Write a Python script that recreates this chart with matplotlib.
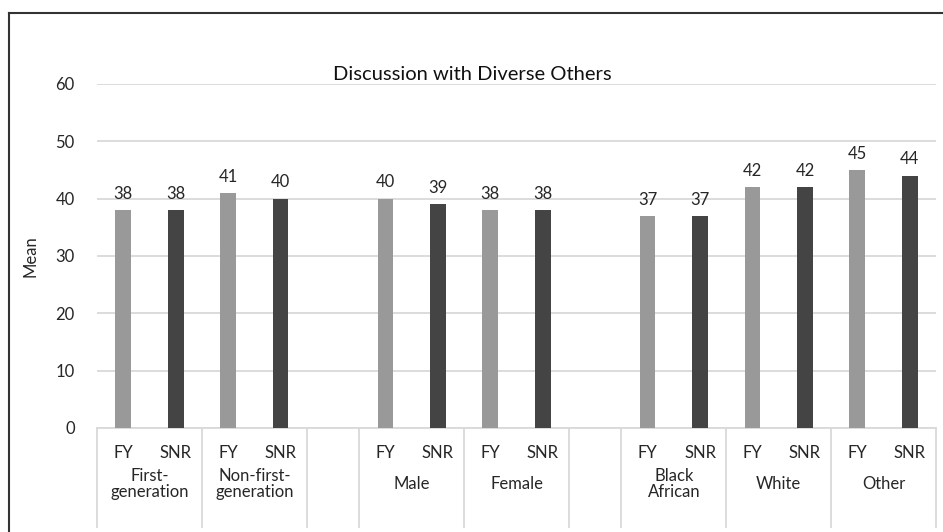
import matplotlib
matplotlib.use("Agg")
import matplotlib.pyplot as plt
from matplotlib.lines import Line2D
from matplotlib.transforms import blended_transform_factory

plt.rcParams["font.family"] = ["Lato", "DejaVu Sans"]

# Groups in display order; None marks an empty spacer cell on the category axis
groups = ["First-\ngeneration", "Non-first-\ngeneration", None,
          "Male", "Female", None,
          "Black\nAfrican", "White", "Other"]
series = ["FY", "SNR"]
fy_means = [38, 41, 40, 38, 37, 42, 45]
snr_means = [38, 40, 39, 38, 37, 42, 44]
yticks = [0, 10, 20, 30, 40, 50, 60]

W, H = 943, 532
fig = plt.figure(figsize=(W / 100, H / 100), dpi=100)

def fx(px):
    return px / W

def fy(py):
    return 1 - py / H

ax_left, ax_right, ax_top, ax_bottom = 97, 936, 84, 428
ax = fig.add_axes([fx(ax_left), fy(ax_bottom), fx(ax_right - ax_left),
                   (ax_bottom - ax_top) / H])

# Slot layout: each real group takes two slots, each spacer one slot
fy_x, snr_x, group_spans = [], [], []
slot = 0
for g in groups:
    if g is None:
        group_spans.append((slot - 0.5, slot + 0.5, None))
        slot += 1
    else:
        fy_x.append(slot)
        snr_x.append(slot + 1)
        group_spans.append((slot - 0.5, slot + 1.5, g))
        slot += 2
n_slots = slot

txt = "#262626"
fs = 12
bw = 0.3
light, dark = "#999999", "#444444"
b1 = ax.bar(fy_x, fy_means, width=bw, color=light, zorder=3)
b2 = ax.bar(snr_x, snr_means, width=bw, color=dark, zorder=3)

for bars, vals in ((b1, fy_means), (b2, snr_means)):
    for rect, v in zip(bars, vals):
        ax.annotate(f"{v}", (rect.get_x() + rect.get_width() / 2, v),
                    xytext=(0, 6), textcoords="offset points",
                    ha="center", va="bottom", fontsize=fs, color=txt)

ax.set_xlim(-0.5, n_slots - 0.5)
ax.set_ylim(0, 60)
ax.set_yticks(yticks)
ax.set_yticklabels([str(t) for t in yticks], fontsize=fs, color=txt)
ax.tick_params(axis="y", length=0, pad=16)
ax.set_xticks([])
ax.grid(axis="y", color="#d9d9d9", linewidth=1.3, zorder=0)
for s in ("top", "right", "left"):
    ax.spines[s].set_visible(False)
ax.spines["bottom"].set_color("#d9d9d9")
ax.spines["bottom"].set_linewidth(1.3)

ax.set_ylabel("Mean", fontsize=fs, color=txt, labelpad=12)

# Multi-level category axis drawn below the plot
trans = blended_transform_factory(ax.transData, ax.transAxes)
axis_h = ax_bottom - ax_top
sep_bottom = -(527 - ax_bottom) / axis_h
inner_y = -(453 - ax_bottom) / axis_h
outer_y = -(484 - ax_bottom) / axis_h

edges = sorted({e for a, b, _ in group_spans for e in (a, b)})
for e in edges:
    ax.add_line(Line2D([e, e], [0, sep_bottom], transform=trans,
                       color="#d9d9d9", linewidth=1.3, clip_on=False))

for a, b, g in group_spans:
    if g is None:
        continue
    ax.text(a + 0.5, inner_y, series[0], transform=trans, ha="center",
            va="center", fontsize=fs, color=txt)
    ax.text(a + 1.5, inner_y, series[1], transform=trans, ha="center",
            va="center", fontsize=fs, color=txt)
    ax.text((a + b) / 2, outer_y, g, transform=trans, ha="center",
            va="center", fontsize=fs, color=txt, linespacing=0.95)

fig.text(fx(472), fy(75), "Discussion with Diverse Others", ha="center",
         va="center", fontsize=14.5, color="#111111")

# Chart frame (top and left edges)
fig.add_artist(Line2D([fx(9), fx(9)], [0, fy(13)], color="#333333",
                      linewidth=1.5, transform=fig.transFigure))
fig.add_artist(Line2D([fx(9), 1], [fy(13), fy(13)], color="#333333",
                      linewidth=1.5, transform=fig.transFigure))

fig.savefig("out.png", dpi=100)
